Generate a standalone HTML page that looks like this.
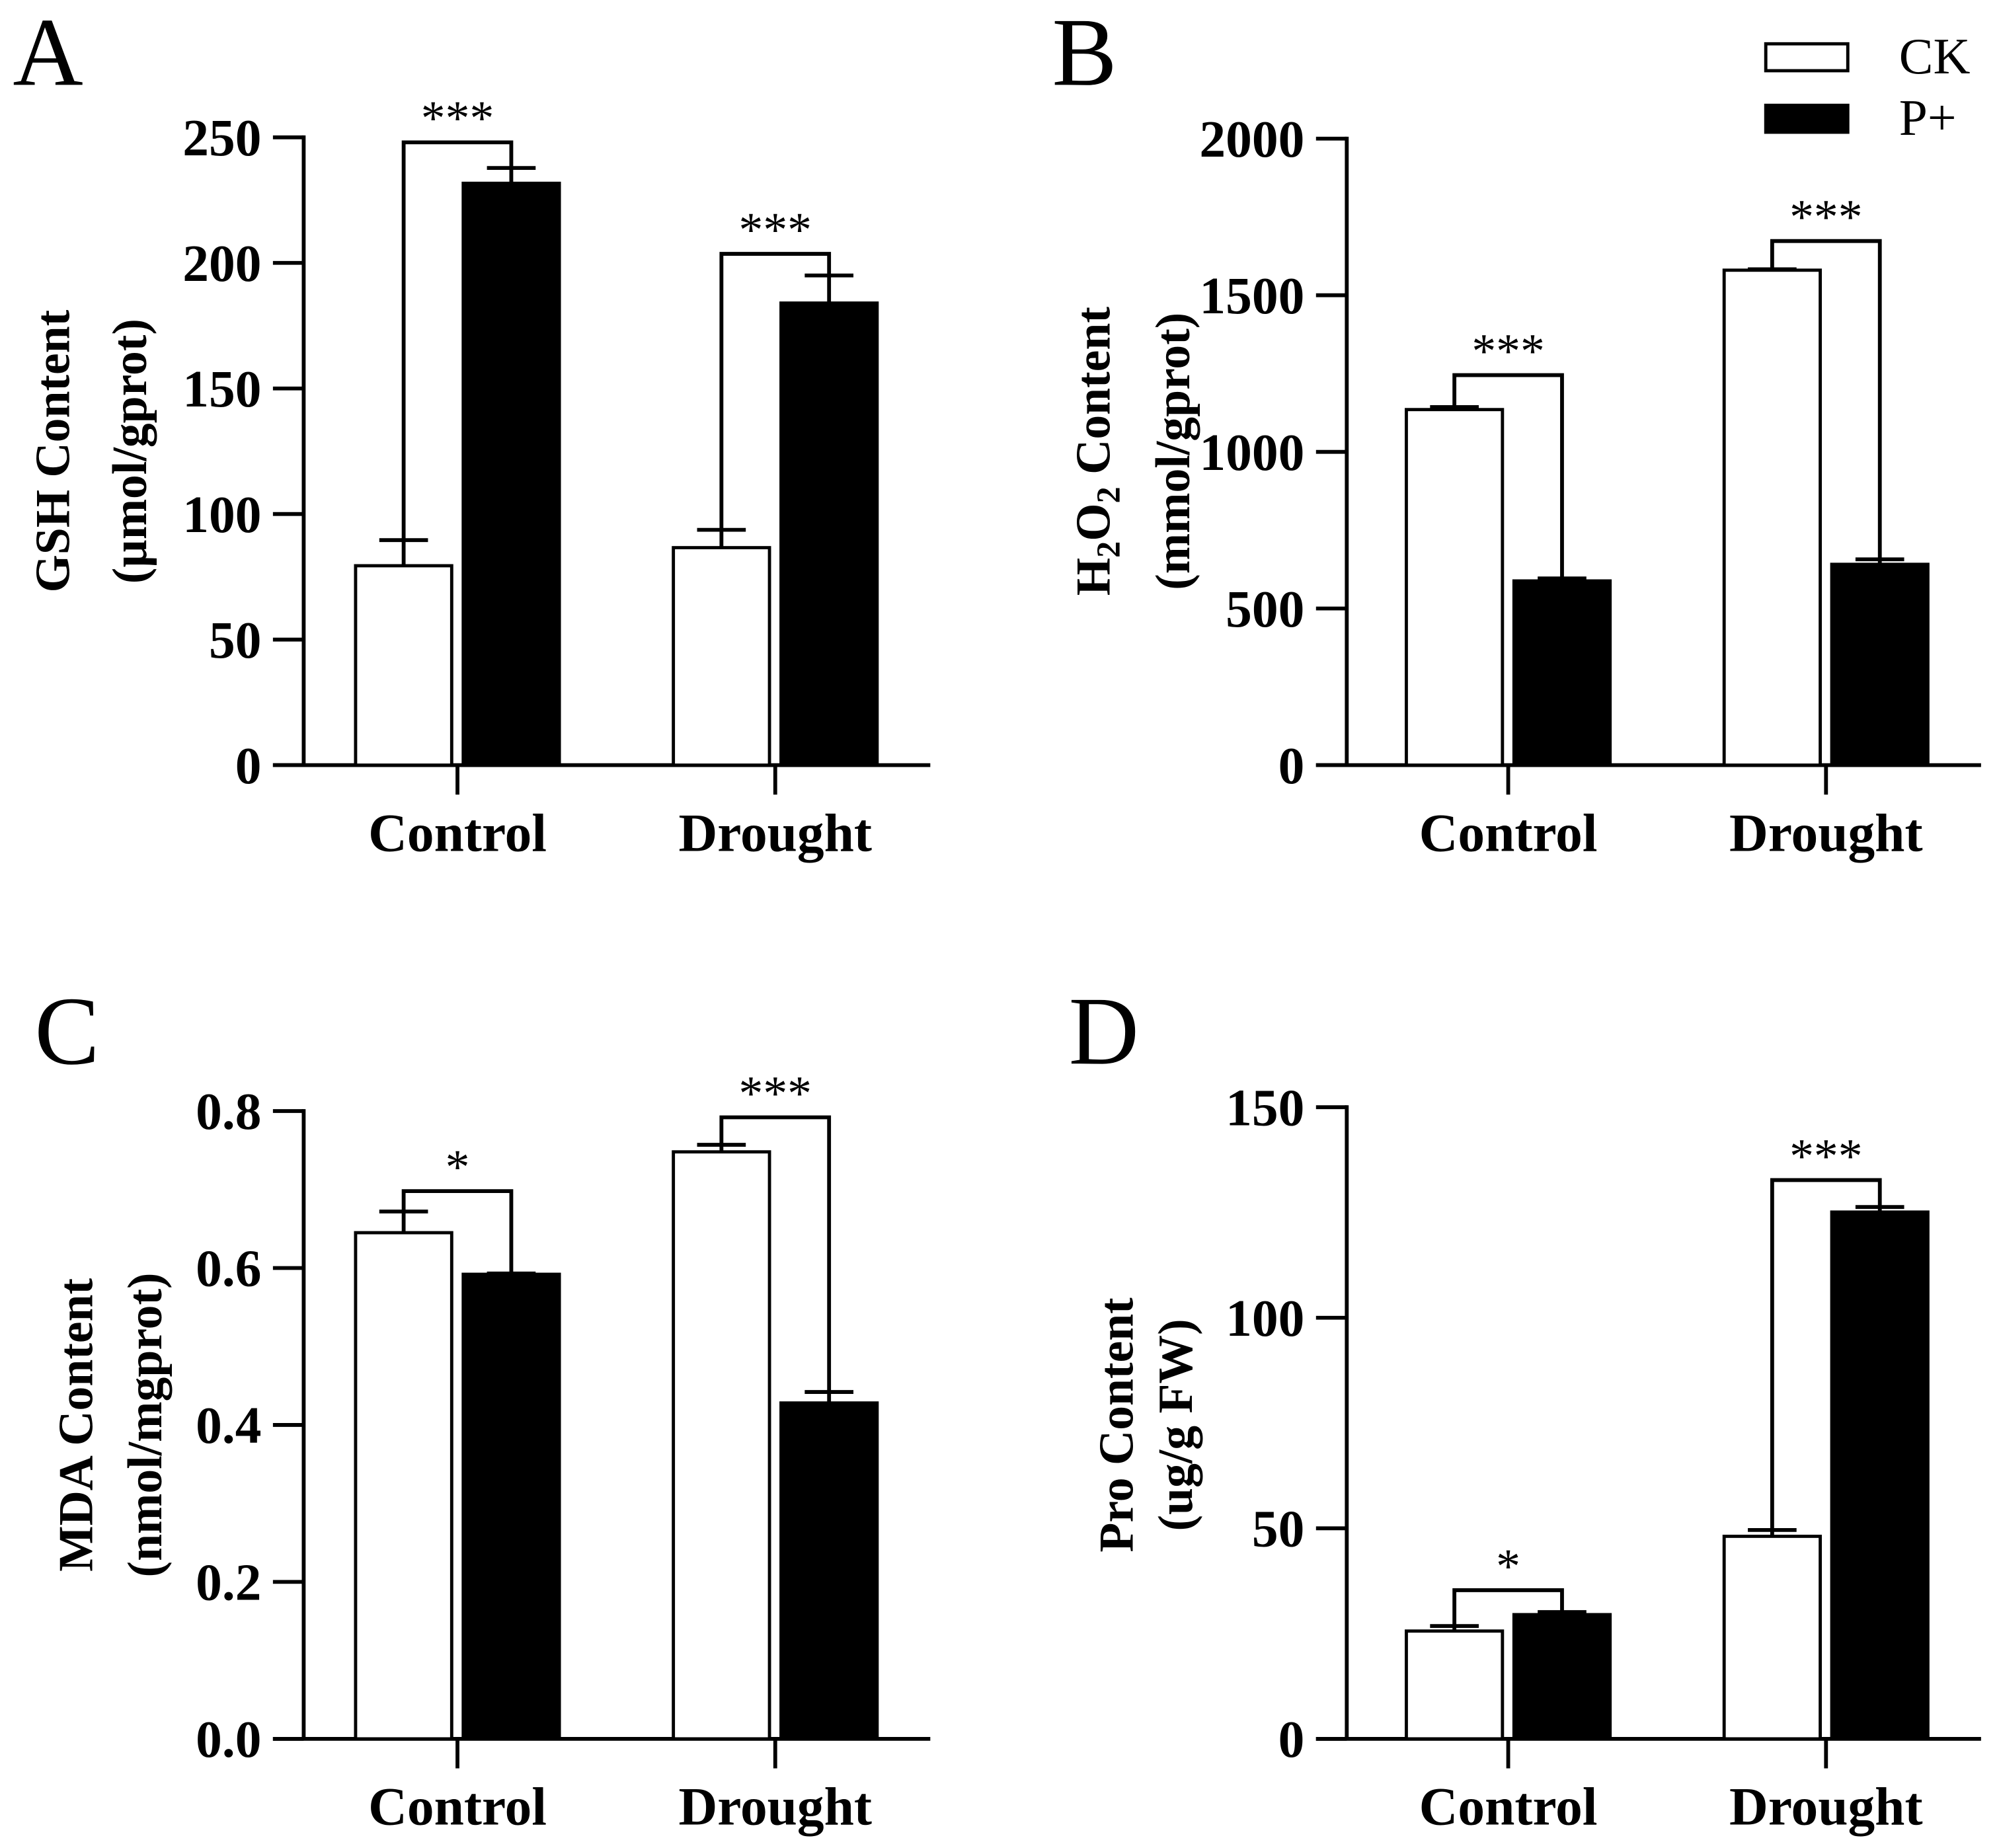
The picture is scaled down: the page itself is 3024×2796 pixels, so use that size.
<!DOCTYPE html>
<html><head><meta charset="utf-8"><style>
html,body{margin:0;padding:0;background:#fff}
svg{display:block}
text{font-family:"Liberation Serif",serif;fill:#000}
.b{font-weight:bold}
</style></head><body>
<svg id="fig" width="3024" height="2796" viewBox="0 0 1560 1442" xmlns="http://www.w3.org/2000/svg"></svg>
<script>
// ---- data ----
const categories = ["Control", "Drought"];
const seriesNames = ["CK", "P+"];
// Panel A: GSH
const gshCK = [79.4, 86.6];
const gshCKErr = [89.6, 93.7];
const gshP = [231.7, 184];
const gshPErr = [237.8, 195];
const gshBracket = [248, 203.6];
const gshSig = ["***", "***"];
const gshTicks = [0, 50, 100, 150, 200, 250];
// Panel B: H2O2
const h2o2CK = [1135, 1580];
const h2o2CKErr = [1143, 1583];
const h2o2P = [588, 641];
const h2o2PErr = [596, 657];
const h2o2Bracket = [1245, 1673];
const h2o2Sig = ["***", "***"];
const h2o2Ticks = [0, 500, 1000, 1500, 2000];
// Panel C: MDA
const mdaCK = [0.645, 0.748];
const mdaCKErr = [0.672, 0.757];
const mdaP = [0.592, 0.428];
const mdaPErr = [0.593, 0.442];
const mdaBracket = [0.698, 0.792];
const mdaSig = ["*", "***"];
const mdaTicks = ["0.0", "0.2", "0.4", "0.6", "0.8"];
// Panel D: Pro
const proCK = [25.6, 48.1];
const proCKErr = [26.8, 49.6];
const proP = [29.5, 125.1];
const proPErr = [30.1, 126.3];
const proBracket = [35.3, 132.7];
const proSig = ["*", "***"];
const proTicks = [0, 50, 100, 150];

const NS = "http://www.w3.org/2000/svg";
const svg = document.getElementById("fig");
function mk(tag, attrs, parent, txt) {
  const e = document.createElementNS(NS, tag);
  for (const k in attrs) e.setAttribute(k, attrs[k]);
  if (txt !== undefined) e.textContent = txt;
  (parent || svg).appendChild(e);
  return e;
}

function panel(cfg) {
  const g = mk("g", {}, svg);
  
  
  const ax = cfg.ax, y0 = cfg.y0, yTop = cfg.yTop, xEnd = cfg.base + 489;
  const tickVals = cfg.ticks.map(Number);
  const vmax = tickVals[tickVals.length - 1];
  const Y = v => y0 - (v / vmax) * (y0 - yTop);
  const L = mk("text", {x: cfg.lx, y: cfg.ly, "font-size": 76}, g, cfg.letter);
  
  
  const ya = mk("line", {x1: ax, y1: yTop - 1.5, x2: ax, y2: y0, stroke: "#000", "stroke-width": 3}, g);
  
  
  cfg.ticks.forEach((t, i) => {
    const y = Y(tickVals[i]);
    const tl = mk("line", {x1: ax - 24, y1: y, x2: ax, y2: y, stroke: "#000", "stroke-width": 3}, g);
    
    
    const tt = mk("text", {x: ax - 33, y: y + 14, "font-size": 41, "text-anchor": "end", class: "b"}, g, String(t));
    
    
  });
  const xa = mk("line", {x1: ax - 24, y1: y0, x2: xEnd, y2: y0, stroke: "#000", "stroke-width": 3}, g);
  
  
  const yt = mk("text", {transform: `translate(${cfg.tx1},${cfg.ty}) rotate(-90)`, "font-size": 38, "text-anchor": "middle", class: "b"}, g);
  
  
  if (cfg.h2o2) {
    mk("tspan", {}, yt, "H");
    mk("tspan", {"font-size": 26, dy: 8}, yt, "2");
    mk("tspan", {dy: -8}, yt, "O");
    mk("tspan", {"font-size": 26, dy: 8}, yt, "2");
    mk("tspan", {dy: -8}, yt, " Content");
  } else yt.textContent = cfg.title1;
  const yt2 = mk("text", {transform: `translate(${cfg.tx2},${cfg.ty}) rotate(-90)`, "font-size": 38, "text-anchor": "middle", class: "b"}, g, cfg.title2);
  
  

  const groupCenters = [cfg.base + 120, cfg.base + 368];
  const bw = 75, gap = 9;
  categories.forEach((c, i) => {
    const cx = groupCenters[i];
    const ct = mk("line", {x1: cx, y1: y0, x2: cx, y2: y0 + 23, stroke: "#000", "stroke-width": 3}, g);
    
    
    const cl = mk("text", {x: cx, y: y0 + 67, "font-size": 42, "text-anchor": "middle", class: "b"}, g, c);
    
    
    const xs = [cx - gap / 2 - bw, cx + gap / 2];
    const vals = [cfg.ck[i], cfg.p[i]];
    const errs = [cfg.ckErr[i], cfg.pErr[i]];
    const centers = [];
    vals.forEach((v, s) => {
      const bx = xs[s], by = Y(v), bc = bx + bw / 2;
      centers.push(bc);
      const eb = mk("path", {d: `M${bc},${by} V${Y(errs[s])} M${bc - 19},${Y(errs[s])} H${bc + 19}`, stroke: "#000", "stroke-width": 3, fill: "none"}, g);
      
      
      const r = mk("rect", {x: bx, y: by, width: bw, height: y0 - by, fill: s ? "#000" : "#fff", stroke: "#000", "stroke-width": 2.5}, g);
      
      
    });
    const by = Y(cfg.br[i]);
    const br = mk("path", {d: `M${centers[0]},${Y(errs[0])} V${by} H${centers[1]} V${Y(errs[1])}`, stroke: "#000", "stroke-width": 3, fill: "none"}, g);
    
    
    const st = mk("text", {x: (centers[0] + centers[1]) / 2, y: by - 6, "font-size": 38, "text-anchor": "middle", fill: "#222"}, g, cfg.sig[i]);
    
    
  });
}

panel({name: "panel-a-gsh", letter: "A", lx: 10, ly: 66, ax: 237, base: 237, y0: 597, yTop: 107, ticks: gshTicks,
  ck: gshCK, ckErr: gshCKErr, p: gshP, pErr: gshPErr, br: gshBracket, sig: gshSig,
  title1: "GSH Content", title2: "(µmol/gprot)", tx1: 54, tx2: 114, ty: 352});
panel({name: "panel-b-h2o2", letter: "B", lx: 821, ly: 66, ax: 1051, base: 1057, y0: 597, yTop: 108, ticks: h2o2Ticks,
  ck: h2o2CK, ckErr: h2o2CKErr, p: h2o2P, pErr: h2o2PErr, br: h2o2Bracket, sig: h2o2Sig, h2o2: true,
  title2: "(mmol/gprot)", tx1: 866, tx2: 928, ty: 352});
panel({name: "panel-c-mda", letter: "C", lx: 27, ly: 830, ax: 237, base: 237, y0: 1357, yTop: 867, ticks: mdaTicks,
  ck: mdaCK, ckErr: mdaCKErr, p: mdaP, pErr: mdaPErr, br: mdaBracket, sig: mdaSig,
  title1: "MDA Content", title2: "(nmol/mgprot)", tx1: 72, tx2: 126, ty: 1112});
panel({name: "panel-d-pro", letter: "D", lx: 834, ly: 830, ax: 1051, base: 1057, y0: 1357, yTop: 864, ticks: proTicks,
  ck: proCK, ckErr: proCKErr, p: proP, pErr: proPErr, br: proBracket, sig: proSig,
  title1: "Pro Content", title2: "(ug/g FW)", tx1: 884, tx2: 930, ty: 1112});

const lg = mk("g", {}, svg);


seriesNames.forEach((n, i) => {
  const y = 34 + i * 48;
  const sw = mk("rect", {x: 1378, y: y, width: 64, height: 21, fill: i ? "#000" : "#fff", stroke: "#000", "stroke-width": 2.5}, lg);
  
  
  const t = mk("text", {x: 1482, y: y + 23, "font-size": 40}, lg, n);
  
  
});
</script>
</body></html>
